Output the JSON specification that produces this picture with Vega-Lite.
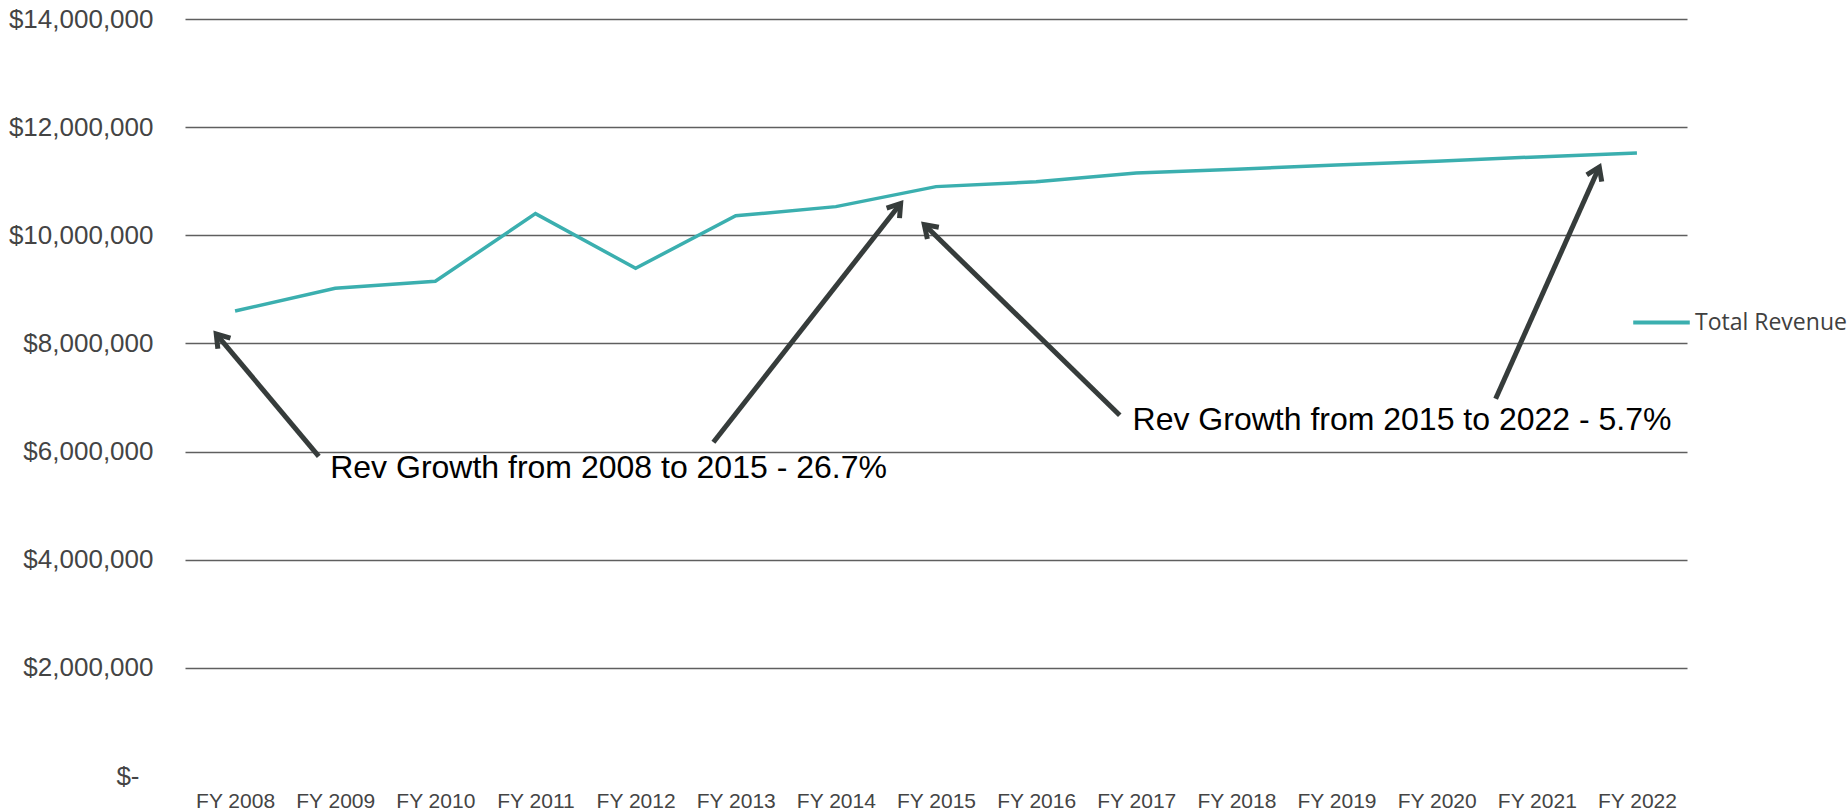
{
  "$schema": "https://vega.github.io/schema/vega-lite/v6.json",
  "width": 1502,
  "height": 757,
  "autosize": "none",
  "padding": {"left": 185, "top": 19, "right": 160, "bottom": 36},
  "background": "white",
  "config": {
    "view": {"stroke": null},
    "font": "Liberation Sans"
  },
  "datasets": {
    "revenue": [
      {"year": 2008, "revenue": 8600000},
      {"year": 2009, "revenue": 9020000},
      {"year": 2010, "revenue": 9150000},
      {"year": 2011, "revenue": 10400000},
      {"year": 2012, "revenue": 9390000},
      {"year": 2013, "revenue": 10360000},
      {"year": 2014, "revenue": 10530000},
      {"year": 2015, "revenue": 10900000},
      {"year": 2016, "revenue": 10990000},
      {"year": 2017, "revenue": 11150000},
      {"year": 2018, "revenue": 11220000},
      {"year": 2019, "revenue": 11300000},
      {"year": 2020, "revenue": 11370000},
      {"year": 2021, "revenue": 11450000},
      {"year": 2022, "revenue": 11520000}
    ],
    "arrows": [
      {"x1": 2008.836, "y1": 5911000, "x2": 2007.812, "y2": 8174000, "angle": 320.1},
      {"x1": 2012.777, "y1": 6172000, "x2": 2014.647, "y2": 10589000, "angle": 38.1},
      {"x1": 2016.835, "y1": 6672000, "x2": 2014.883, "y2": 10198000, "angle": 314.3},
      {"x1": 2020.589, "y1": 6977000, "x2": 2021.624, "y2": 11263000, "angle": 24.1}
    ],
    "notes": [
      {"x": 2008.95, "y": 5509000, "label": "Rev Growth from 2008 to 2015 - 26.7%"},
      {"x": 2016.963, "y": 6390000, "label": "Rev Growth from 2015 to 2022 - 5.7%"}
    ]
  },
  "encoding": {
    "x": {
      "type": "quantitative",
      "scale": {"domain": [2007.5, 2022.5], "nice": false, "zero": false}
    },
    "y": {
      "type": "quantitative",
      "scale": {"domain": [0, 14000000], "nice": false}
    }
  },
  "layer": [
    {
      "data": {"name": "revenue"},
      "mark": {"type": "line", "strokeWidth": 3.5, "strokeJoin": "miter", "clip": false},
      "encoding": {
        "x": {
          "field": "year",
          "type": "quantitative",
          "axis": {
            "title": null,
            "values": [2008, 2009, 2010, 2011, 2012, 2013, 2014, 2015, 2016, 2017, 2018, 2019, 2020, 2021, 2022],
            "labelExpr": "'FY ' + datum.value",
            "domain": false,
            "ticks": false,
            "grid": false,
            "labelFont": "Liberation Sans",
            "labelFontSize": 21,
            "labelColor": "#444444",
            "labelPadding": 14,
            "labelFlush": false,
            "labelOverlap": false
          }
        },
        "y": {
          "field": "revenue",
          "type": "quantitative",
          "axis": {
            "title": null,
            "values": [0, 2000000, 4000000, 6000000, 8000000, 10000000, 12000000, 14000000],
            "labelExpr": "datum.value === 0 ? '$-' : format(datum.value, '$,')",
            "domain": false,
            "ticks": false,
            "grid": true,
            "gridColor": "#5f5f5f",
            "gridWidth": 1.3,
            "gridOpacity": {"condition": {"test": "datum.value === 0", "value": 0}, "value": 1},
            "labelFont": "Liberation Sans",
            "labelFontSize": 26,
            "labelColor": "#444444",
            "labelPadding": {"condition": {"test": "datum.value === 0", "value": 46}, "value": 32}
          }
        },
        "color": {
          "datum": "Total Revenue",
          "type": "nominal",
          "scale": {"range": ["#3BAFAF"]},
          "legend": {
            "title": null,
            "orient": "none",
            "legendX": 1446,
            "legendY": 273,
            "symbolType": "stroke",
            "symbolSize": 3200,
            "symbolStrokeWidth": 4,
            "labelFont": "Open Sans",
            "labelFontSize": 23,
            "labelColor": "#404040",
            "labelOffset": 3
          }
        }
      }
    },
    {
      "data": {"name": "arrows"},
      "mark": {"type": "rule", "color": "#363c3b", "strokeWidth": 5, "strokeCap": "butt"},
      "encoding": {
        "x": {"field": "x1", "type": "quantitative"},
        "y": {"field": "y1", "type": "quantitative"},
        "x2": {"field": "x2"},
        "y2": {"field": "y2"}
      }
    },
    {
      "data": {"name": "arrows"},
      "mark": {
        "type": "point",
        "shape": "M-0.8,1.2L0,0L0.8,1.2",
        "filled": false,
        "color": "#363c3b",
        "strokeWidth": 5,
        "size": 420,
        "opacity": 1,
        "strokeJoin": "miter"
      },
      "encoding": {
        "x": {"field": "x2", "type": "quantitative"},
        "y": {"field": "y2", "type": "quantitative"},
        "angle": {"field": "angle", "type": "quantitative", "scale": null}
      }
    },
    {
      "data": {"name": "notes"},
      "mark": {
        "type": "text",
        "align": "left",
        "baseline": "alphabetic",
        "font": "Liberation Sans",
        "fontSize": 32,
        "color": "#000000"
      },
      "encoding": {
        "x": {"field": "x", "type": "quantitative"},
        "y": {"field": "y", "type": "quantitative"},
        "text": {"field": "label"}
      }
    }
  ]
}
